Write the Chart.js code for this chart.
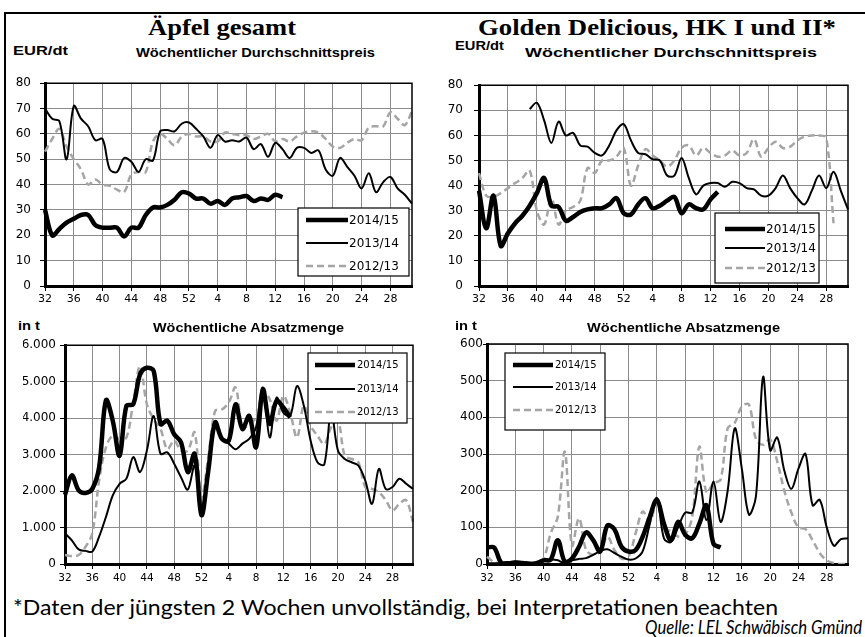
<!DOCTYPE html>
<html>
<head>
<meta charset="utf-8">
<script src="https://cdn.jsdelivr.net/npm/chart.js@4.4.1/dist/chart.umd.min.js"></script>
<style>
  html, body { margin: 0; padding: 0; background: #fff; }
  body { width: 865px; height: 637px; position: relative; overflow: hidden; }
  canvas { position: absolute; }
  .t { position: absolute; white-space: nowrap; line-height: 1; color: #000; transform-origin: 0 0; }
  #frame { position: absolute; left: 4px; top: 12px; width: 880px; height: 640px; border-left: 2px solid #000; border-top: 2px solid #000; }
</style>
</head>
<body>
<div id="frame"></div>
<script>
// Kalenderwochen 32..52, 1..31
const weeks = [32,33,34,35,36,37,38,39,40,41,42,43,44,45,46,47,48,49,50,51,52,
  1,2,3,4,5,6,7,8,9,10,11,12,13,14,15,16,17,18,19,20,21,22,23,24,25,26,27,28,29,30,31];
const seasons = ['2014/15', '2013/14', '2012/13'];

// Äpfel gesamt – Preis EUR/dt
const preisAlle1415 = [30,20,22.5,25,26.5,28,28,24,23,23,23,19.5,23,23,28,31,31,32,34,37,36.5,
  34.5,34.5,32.5,33.5,32,34.5,35,35.5,33.5,34.5,34,36,35];
const preisAlle1314 = [70,66,65,50,71,66,63,57.5,58,46,45,50.5,49,45,50,49.5,61,61.5,61,64,64.5,
  62,59,54.5,59.5,57,57.5,57,58.5,54,56,51,56.5,54,50.5,54.5,54.5,52.5,53.5,46,43.5,50.5,47,43.5,38.5,44.5,37,41,43,38.5,36,32.5];
const preisAlle1213 = [53,58,62,55,50,46,40,42,40,39.5,38,37,44,45,45,57,60,58,55.5,59,60,
  59,59,57,57,60.5,60,59.5,59.5,58,59,60,57,58,57,59,60.5,61,60.5,58,55,54.5,56.5,58,57.5,62.5,63,63,68.5,66,63.5,69];

// Golden Delicious – Preis EUR/dt
const preisGD1415 = [38,23,36,16,21,25,28,32,37,43,32,31.5,26,27.5,29.5,30.5,31,31,32.5,35,29,
  28.5,32.5,35,31,32,34,35.5,29,32.5,31,30.5,34.5,37.5];
const preisGD1314 = [null,null,null,null,null,null,null,70.5,73,66,57,65.5,60,61,56,55.5,53,52,56,62,64.5,
  58,53,52.5,50.5,50,44,44,51,43,36.5,40,41,41,39.5,41.5,41,39,38.5,36,36,39,44,39,35,32.5,38,44,39,45.5,38,30.5];
const preisGD1213 = [45,36,35.5,37,39,41,43,46,30,24.5,35,24.5,30,31.5,34,47,45,50,50,51.5,55,
  40,48,54.5,52,50,47.5,50,55,56,52,55,53,51.5,52,54,52,53,58.5,51.5,55,57.5,55,55.5,58,59.5,60,60,59,25,null,null];

// Äpfel gesamt – Absatz in t
const mengeAlle1415 = [1900,2430,2020,1950,2060,2650,4490,3930,2970,4340,4380,5200,5380,5290,3840,3930,3560,3340,2520,3020,1340,
  2560,3880,3430,3380,4380,3700,4060,3200,4790,3840,4470,4290,4020];
const mengeAlle1314 = [840,650,400,360,340,750,1290,1880,2200,2340,2930,2520,3110,4060,3020,3060,2750,2380,2040,2700,1500,
  2600,3880,3430,3300,3150,3300,3430,3750,4840,3470,4560,4150,4060,4880,4340,3380,2790,2730,4200,3110,2880,2790,2700,2290,1650,2610,2060,2110,2340,2200,2060];
const mengeAlle1213 = [245,220,245,470,840,2290,3200,3520,3430,3470,4430,5430,4380,3970,3700,3150,3380,3110,3110,3610,1840,
  2930,4200,4240,4430,4840,3750,3840,4020,4750,4520,3930,4610,4150,3470,4340,3790,3520,3290,3750,3930,2970,2880,2790,2110,2060,1970,1750,1470,1650,1750,1150];

// Golden Delicious – Absatz in t
const mengeGD1415 = [45,45,4,2,4,2,0,2,10,12,65,6,15,47,86,65,34,105,95,47,34,
  38,75,129,175,110,65,115,80,70,110,160,55,45];
const mengeGD1314 = [2,2,3,5,7,6,4,2,8,12,10,2,10,14,16,25,35,40,30,20,12,
  15,35,110,180,70,60,100,140,140,225,120,225,115,200,370,260,135,185,510,310,345,255,205,260,300,160,175,100,50,68,70];
const mengeGD1213 = [20,5,2,0,0,0,0,2,15,84,129,306,50,125,38,25,34,75,38,15,20,
  84,143,115,170,95,90,75,80,130,320,195,220,230,370,385,430,435,340,325,340,280,200,140,100,95,65,30,10,3,0,0];

Chart.defaults.font.family = '"DejaVu Sans", sans-serif';

const fmtDe = v => String(v).replace(/\B(?=(\d{3})+(?!\d))/g, '.');

// Rahmen oben/rechts + Legende im Kasten
const boxLegend = {
  id: 'boxLegend',
  afterDraw(chart, args, o) {
    const { ctx, chartArea: a } = chart;
    ctx.save();
    ctx.strokeStyle = '#000'; ctx.lineWidth = 1.5;
    ctx.beginPath(); ctx.moveTo(a.left, a.top); ctx.lineTo(a.right, a.top); ctx.lineTo(a.right, a.bottom); ctx.stroke();
    const x = o.x - o.ox, y = o.y - o.oy;
    ctx.fillStyle = '#fff'; ctx.fillRect(x, y, o.w, o.h);
    ctx.lineWidth = 1.2; ctx.strokeStyle = '#000'; ctx.strokeRect(x, y, o.w, o.h);
    ctx.font = o.fs + 'px "DejaVu Sans"'; ctx.textBaseline = 'middle'; ctx.textAlign = 'left';
    chart.data.datasets.forEach((d, i) => {
      const ry = o.rows[i] - o.oy;
      ctx.strokeStyle = d.borderColor; ctx.lineWidth = d.borderWidth; ctx.lineCap = 'butt';
      ctx.setLineDash(d.borderDash || []);
      ctx.beginPath(); ctx.moveTo(o.l1 - o.ox, ry); ctx.lineTo(o.l2 - o.ox, ry); ctx.stroke();
      ctx.setLineDash([]);
      ctx.fillStyle = '#000';
      ctx.fillText(d.label, o.tx - o.ox, ry + 0.5);
    });
    ctx.restore();
  }
};

function panel(p) {
  const yw = 42, xh = 26, pt = 10, pr = 10;
  const w = yw + (p.R - p.L) + pr, h = pt + (p.B - p.T) + xh;
  const cv = document.createElement('canvas');
  cv.width = w; cv.height = h;
  cv.style.width = w + 'px'; cv.style.height = h + 'px';
  const ox = p.L - yw, oy = p.T - pt;
  cv.style.left = ox + 'px'; cv.style.top = oy + 'px';
  document.body.appendChild(cv);
  const lg = Object.assign({ ox, oy }, p.legend);
  return new Chart(cv, {
    type: 'line',
    data: {
      labels: weeks,
      datasets: [
        { label: seasons[0], data: p.data[0], borderColor: '#000', borderWidth: 4.5 },
        { label: seasons[1], data: p.data[1], borderColor: '#000', borderWidth: 2 },
        { label: seasons[2], data: p.data[2], borderColor: '#a5a5a5', borderWidth: 2.5, borderDash: [7, 4] }
      ]
    },
    options: {
      animation: false, responsive: false, maintainAspectRatio: false,
      layout: { padding: { top: pt, right: pr, left: 0, bottom: 0 } },
      elements: { point: { radius: 0 }, line: { tension: 0.35, fill: false, borderJoinStyle: 'round' } },
      plugins: { legend: { display: false }, tooltip: { enabled: false }, boxLegend: lg },
      scales: {
        x: {
          type: 'category', offset: false,
          grid: {
            color: c => c.index % 4 === 0 ? '#8c8c8c' : 'rgba(0,0,0,0)',
            tickColor: c => c.index % 4 === 0 ? '#000' : 'rgba(0,0,0,0)',
            tickLength: 5, lineWidth: 1
          },
          border: { color: '#000', width: 3 },
          ticks: {
            autoSkip: false, maxRotation: 0, minRotation: 0, padding: p.xpad, color: '#000',
            font: { size: p.xfs },
            callback: (v, i) => i % 4 === 0 ? String(weeks[i]) : ''
          },
          afterFit: s => { s.height = xh; }
        },
        y: {
          min: 0, max: p.yMax,
          grid: { color: '#8c8c8c', tickColor: '#000', tickLength: p.ytl, lineWidth: 1 },
          border: { color: '#000', width: 3 },
          ticks: { stepSize: p.yStep, padding: p.ypad, color: '#000', font: { size: 12 }, callback: v => fmtDe(v) },
          afterFit: s => { s.width = yw; }
        }
      }
    },
    plugins: [boxLegend]
  });
}

panel({ L: 45, T: 77, R: 412, B: 286, yMax: 80, yStep: 10, xfs: 11, xpad: 2, ytl: 5, ypad: 9,
  data: [preisAlle1415, preisAlle1314, preisAlle1213],
  legend: { x: 298, y: 208, w: 111, h: 68, rows: [220, 243, 266], l1: 306, l2: 348, tx: 349, fs: 12 } });
panel({ L: 479, T: 77, R: 848, B: 286, yMax: 80, yStep: 10, xfs: 11, xpad: 2, ytl: 5, ypad: 11,
  data: [preisGD1415, preisGD1314, preisGD1213],
  legend: { x: 715, y: 213, w: 104, h: 70, rows: [229, 248, 268], l1: 725, l2: 765, tx: 766, fs: 12 } });
panel({ L: 65, T: 344, R: 413, B: 564, yMax: 6000, yStep: 1000, xfs: 10.5, xpad: 3, ytl: 5, ypad: 4,
  data: [mengeAlle1415, mengeAlle1314, mengeAlle1213],
  legend: { x: 308, y: 353, w: 99, h: 70, rows: [365, 389, 412], l1: 315, l2: 355, tx: 357, fs: 10 } });
panel({ L: 487, T: 344, R: 848, B: 564, yMax: 600, yStep: 100, xfs: 10.5, xpad: 3, ytl: 4, ypad: 0,
  data: [mengeGD1415, mengeGD1314, mengeGD1213],
  legend: { x: 505, y: 353, w: 100, h: 77, rows: [365, 387, 410], l1: 513, l2: 553, tx: 555, fs: 10 } });

// Beschriftungen: [Text, links, Grundlinie, Breite, Schrift]
const labels = [
  ['Äpfel gesamt', 148, 35, 148, 'bold 23px "Liberation Serif"'],
  ['Golden Delicious, HK I und II*', 478, 35, 358, 'bold 23px "Liberation Serif"'],
  ['EUR/dt', 13, 55, 55, 'bold 12px "Liberation Sans"'],
  ['Wöchentlicher Durchschnittspreis', 136, 57, 239, 'bold 12.5px "Liberation Sans"'],
  ['EUR/dt', 455, 50, 49, 'bold 12px "Liberation Sans"'],
  ['Wöchentlicher Durchschnittspreis', 525, 57, 292, 'bold 12.5px "Liberation Sans"'],
  ['in t', 18, 330, 22, 'bold 12px "Liberation Sans"'],
  ['Wöchentliche Absatzmenge', 153, 332, 191, 'bold 12.5px "Liberation Sans"'],
  ['in t', 455, 330, 22, 'bold 12px "Liberation Sans"'],
  ['Wöchentliche Absatzmenge', 587, 332, 193, 'bold 12.5px "Liberation Sans"'],
  ['*Daten der jüngsten 2 Wochen unvollständig, bei Interpretationen beachten', 13, 614, 765, '21px Lato'],
  ['Quelle: LEL Schwäbisch Gmünd', 645, 633, 217, 'italic 19px Lato']
];
labels.forEach(([txt, x, base, w, font]) => {
  const el = document.createElement('div');
  el.className = 't';
  el.textContent = txt;
  el.style.font = font;
  el.style.lineHeight = '1';
  document.body.appendChild(el);
  const size = parseFloat(font.match(/([\d.]+)px/)[1]);
  el.style.left = x + 'px';
  el.style.top = (base - 0.84 * size) + 'px';
  const real = el.getBoundingClientRect().width;
  el.style.transform = 'scaleX(' + (w / real) + ')';
});
</script>
</body>
</html>
